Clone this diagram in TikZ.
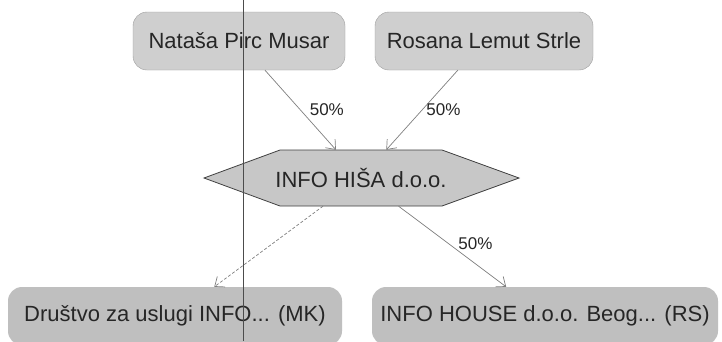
\documentclass[tikz,border=0pt]{standalone}
\usepackage{fontspec}
\setmainfont{Liberation Sans}
\usetikzlibrary{arrows.meta}
\begin{document}
\begin{tikzpicture}[x=1pt, y=-1pt, every node/.style={font=\fontsize{22}{26}\selectfont,
                  text=black!85, inner sep=0pt},
                  owner/.style={draw=black!38, fill=black!19, rounded corners=14pt,
                  minimum width=212pt, minimum height=58pt},
                  firm/.style={fill=black!25, rounded corners=14pt, minimum height=58pt},
                  share/.style={draw=black!50, line width=0.7pt,
                  -{Straight Barb[length=8pt,width=13pt]}},
                  pct/.style={font=\fontsize{17}{20}\selectfont, anchor=west}]
              \clip (0,0) rectangle (722,341);
              \fill[white] (0,0) rectangle (722,341);
              \node[owner] (natasa) at (239,41) {Nataša Pirc Musar};
              \node[owner, minimum width=218pt] (rosana) at (484,41) {Rosana Lemut Strle};
              \draw[draw=black!75, fill=black!22, line width=0.8pt] (204,178) -- (280,150)
                  -- (442,150) -- (519,178) -- (442,206) -- (280,206) -- cycle;
              \node[minimum width=162pt, minimum height=56pt] (hisa) at (361,178) {INFO HIŠA d.o.o.};
              \node[firm, minimum width=334pt] (mk) at (175,316) {Društvo za uslugi INFO... (MK)};
              \node[firm, minimum width=346pt] (rs) at (545,316) {INFO HOUSE d.o.o. Beog... (RS)};
              \draw[share] (natasa) -- node[pct, xshift=9pt] (p1) {50\%} (hisa);
              \draw[share] (rosana) -- node[pct, xshift=4pt] (p2) {50\%} (hisa);
              \draw[share, dash pattern=on 3pt off 2pt] (hisa) -- (mk);
              \draw[share] (hisa) -- node[pct, pos=.47, xshift=9pt] (p3) {50\%} (rs);
              \draw[black!70, line width=0.6pt] (243,0) -- (243,341);
          \end{tikzpicture}
\end{document}
